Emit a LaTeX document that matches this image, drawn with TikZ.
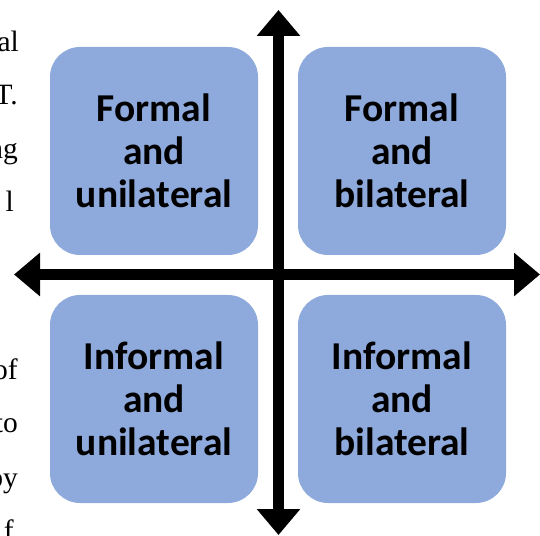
\documentclass[tikz,border=0pt]{standalone}
\usepackage{fontspec}
\setmainfont{Carlito}
\newfontfamily\serifside{Liberation Serif}
\usetikzlibrary{arrows.meta}
\tikzset{
  quad/.style={draw=none, fill={rgb,255:red,142;green,169;blue,219}, rounded corners=30pt,
    minimum width=208pt, minimum height=208pt, align=center, inner sep=0pt,
    font=\fontsize{39.5}{43}\selectfont\bfseries},
  axis/.style={line width=11pt, -{Triangle[width=42pt,length=26pt]}},
  frag/.style={anchor=base east, inner sep=0pt, font=\serifside\fontsize{29.5}{30}\selectfont}
}
\begin{document}
\begin{tikzpicture}[x=1pt,y=1pt]
\useasboundingbox (0,0) rectangle (540,535);
\node[quad] (fu) at (154,384) {Formal\\and\\unilateral};
\node[quad] (fb) at (402,384) {Formal\\and\\bilateral};
\node[quad] (iu) at (154,136) {Informal\\and\\unilateral};
\node[quad] (ib) at (402,136) {Informal\\and\\bilateral};
\coordinate (c) at (278.5,260.5);
\coordinate (top) at (278.5,525);
\coordinate (bot) at (278.5,0);
\coordinate (lft) at (14,260.5);
\coordinate (rgt) at (540,260.5);
\draw[axis] (c) -- (top);
\draw[axis] (c) -- (bot);
\draw[axis] (c) -- (lft);
\draw[axis] (c) -- (rgt);
\node[frag] (t1) at (19,483) {al};
\node[frag] (t2) at (18,430) {T.};
\node[frag] (t3) at (18,376) {ng};
\node[frag] (t4) at (14,323) {l};
\node[frag] (t5) at (18,155) {of};
\node[frag] (t6) at (18,102) {to};
\node[frag] (t7) at (18,48) {by};
\node[frag] (t8) at (14,-5) {f};
\end{tikzpicture}
\end{document}
